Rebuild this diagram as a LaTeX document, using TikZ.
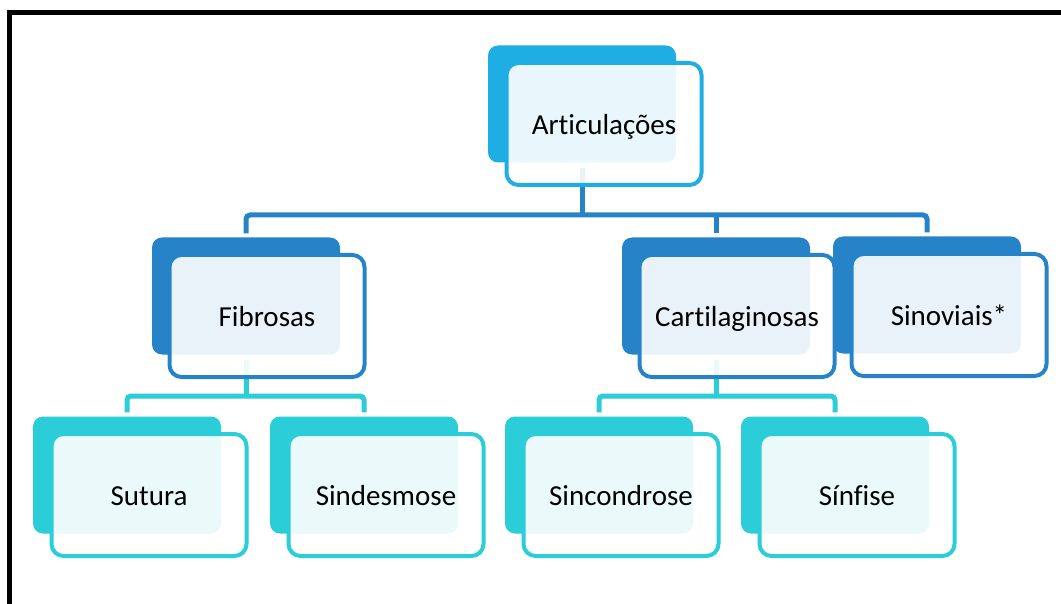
\documentclass[tikz,border=0pt]{standalone}
\usepackage{fontspec}
\setmainfont{Carlito}[Ligatures={NoCommon}]
\usetikzlibrary{calc}
\definecolor{cA}{HTML}{1FAEE3}
\definecolor{cB}{HTML}{2783C7}
\definecolor{cC}{HTML}{2ACDD8}
\newcommand\boxtext[1]{\smash{\raisebox{-10.5pt}{#1}}}
\pgfdeclarelayer{bg}
\pgfsetlayers{bg,main}
\tikzset{
  backbox/.style={rectangle, rounded corners=10pt, minimum width=188pt, minimum height=117pt, inner sep=0pt},
  frontbox/.style={rectangle, rounded corners=12pt, minimum width=195pt, minimum height=122pt, line width=4pt,
     fill=white, fill opacity=0.9, text opacity=1, draw opacity=1, inner sep=0pt, text=black,
     font=\fontsize{29}{34}\selectfont},
  connB/.style={draw=cB, line width=5pt, rounded corners=4pt},
  connC/.style={draw=cC, line width=5pt, rounded corners=4pt},
  frameline/.style={draw=black, line width=5pt}
}
\begin{document}
\begin{tikzpicture}[x=1pt,y=-1pt]
\useasboundingbox (0,0) rectangle (1061,604);

% level 1
\node[backbox, fill=cA] (artB) at (582,104) {};
\node[frontbox, draw=cA] (art) at ($(artB)+(22,20)$) {\boxtext{Articulações}};

% level 2
\node[backbox, fill=cB] (fibB) at (246,296) {};
\node[frontbox, draw=cB] (fib) at ($(fibB)+(21,20)$) {\boxtext{Fibrosas}};
\node[backbox, fill=cB] (cartB) at (716,296) {};
\node[frontbox, draw=cB] (cart) at ($(cartB)+(21,20)$) {\boxtext{Cartilaginosas}};
\node[backbox, fill=cB] (sinB) at (927,295) {};
\node[frontbox, draw=cB] (sin) at ($(sinB)+(22,20)$) {\boxtext{Sinoviais*}};

% level 3
\node[backbox, fill=cC] (sutB) at (127,475) {};
\node[frontbox, draw=cC] (sut) at ($(sutB)+(22,20)$) {\boxtext{Sutura}};
\node[backbox, fill=cC] (sindB) at (364,475) {};
\node[frontbox, draw=cC] (sind) at ($(sindB)+(22,20)$) {\boxtext{Sindesmose}};
\node[backbox, fill=cC] (sincB) at (599,475) {};
\node[frontbox, draw=cC] (sinc) at ($(sincB)+(22,20)$) {\boxtext{Sincondrose}};
\node[backbox, fill=cC] (sinfB) at (835,475) {};
\node[frontbox, draw=cC] (sinf) at ($(sinfB)+(22,20)$) {\boxtext{Sínfise}};

\coordinate (bus1) at (0,215);
\coordinate (bus2) at (0,396);

\begin{pgfonlayer}{bg}
  \fill[white] (0,0) rectangle (1061,604);
  \draw[frameline] (9.5,604) -- (9.5,12.5) -- (1061,12.5);
  % level 1 -> level 2
  \draw[connB] ([yshift=-5pt]artB.south) -- (artB.south |- bus1);
  \draw[connB] ([yshift=4pt]fibB.north) -- (fibB.north |- bus1) -- (sinB.north |- bus1) -- ([yshift=4pt]sinB.north);
  \draw[connB] (cartB.north |- bus1) -- ([yshift=4pt]cartB.north);
  % Fibrosas -> level 3
  \draw[connC] ([yshift=-5pt]fibB.south) -- (fibB.south |- bus2);
  \draw[connC] ([yshift=4pt]sutB.north) -- (sutB.north |- bus2) -- (sindB.north |- bus2) -- ([yshift=4pt]sindB.north);
  % Cartilaginosas -> level 3
  \draw[connC] ([yshift=-5pt]cartB.south) -- (cartB.south |- bus2);
  \draw[connC] ([yshift=4pt]sincB.north) -- (sincB.north |- bus2) -- (sinfB.north |- bus2) -- ([yshift=4pt]sinfB.north);
\end{pgfonlayer}
\end{tikzpicture}
\end{document}
